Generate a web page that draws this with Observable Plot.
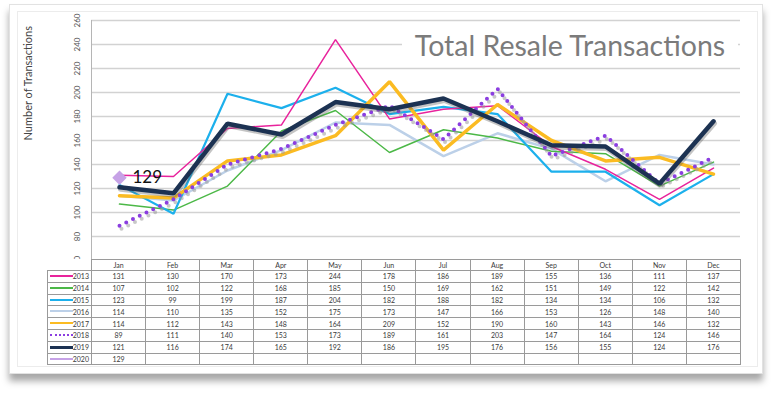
<!DOCTYPE html>
<html>
<head>
<meta charset="utf-8">
<script src="https://cdn.jsdelivr.net/npm/d3@7"></script>
<script src="https://cdn.jsdelivr.net/npm/@observablehq/plot@0.6"></script>
<style>
  html, body { margin: 0; padding: 0; background: #fff; }
  body { width: 772px; height: 397px; position: relative; overflow: hidden; font-family: Lato, "Open Sans", sans-serif; }
  #card { position: absolute; left: 9px; top: 4px; width: 752px; height: 368px; background: #fff;
          border: 1px solid #e2e2e2; box-shadow: 0 7px 7px rgba(0,0,0,0.35); }
  #inner { position: absolute; left: 17px; top: 11px; width: 739px; height: 354px; border: 1px solid #ececec; }
  #chart { position: absolute; left: 0; top: 0; }
  #title { position: absolute; left: 402px; top: 29px; width: 336px; height: 33px; background: #fff;
           color: #7b7b7b; font-size: 28.5px; line-height: 33px; text-align: center; white-space: nowrap; }
  #tbl { position: absolute; left: 47px; top: 259px; border-collapse: collapse; table-layout: fixed; background: #fff; }
  #tbl td { border: 1px solid #9a9a9a; font-size: 7px; color: #3a3a3a; text-align: center; padding: 0; height: 10.8px; line-height: 10px; overflow: hidden; white-space: nowrap; }
  #tbl tr.head td { height: 10px; }
  #tbl td.corner { border: none; background: transparent; }
  #tbl td.leg { text-align: right; padding-right: 2px; position: relative; }
  .sw { position: absolute; left: 2px; top: 4px; width: 23px; height: 0; }
</style>
</head>
<body>
<div id="card"></div>
<div id="inner"></div>
<div id="chart"></div>
<div id="title">Total Resale Transactions</div>
<table id="tbl"></table>
<script>
const months = ["Jan","Feb","Mar","Apr","May","Jun","Jul","Aug","Sep","Oct","Nov","Dec"];
const years = ["2013","2014","2015","2016","2017","2018","2019","2020"];
const v2013 = [131,130,170,173,244,178,186,189,155,136,111,137];
const v2014 = [107,102,122,168,185,150,169,162,151,149,122,142];
const v2015 = [123,99,199,187,204,182,188,182,134,134,106,132];
const v2016 = [114,110,135,152,175,173,147,166,153,126,148,140];
const v2017 = [114,112,143,148,164,209,152,190,160,143,146,132];
const v2018 = [89,111,140,153,173,189,161,203,147,164,124,146];
const v2019 = [121,116,174,165,192,186,195,176,156,155,124,176];
const v2020 = [129];
const yTicks = [60,80,100,120,140,160,180,200,220,240,260];
const colors = {"2013":"#e8239c","2014":"#4cb847","2015":"#1cb0ec","2016":"#bcd0e8","2017":"#fbbb22","2018":"#8b3ee0","2019":"#1c3252","2020":"#c6a2e6"};

const seriesVals = {"2013":v2013,"2014":v2014,"2015":v2015,"2016":v2016,"2017":v2017,"2018":v2018,"2019":v2019,"2020":v2020};
const rows = y => seriesVals[y].map((v,i) => ({month: months[i], value: v, year: y}));

const line = (y, opts) => Plot.line(rows(y), {x: "month", y: "value", stroke: colors[y], strokeLinejoin: "miter", ...opts});

const chart = Plot.plot({
  width: 772, height: 272,
  marginLeft: 91, marginRight: 32, marginTop: 20, marginBottom: 12,
  style: {fontFamily: "Lato, 'Open Sans', sans-serif", background: "transparent"},
  x: {type: "point", domain: months, padding: 0.5, axis: null},
  y: {domain: [60, 260], axis: null},
  marks: [
    Plot.gridY(yTicks, {stroke: "#d2d2d2", strokeWidth: 1.6, strokeOpacity: 1}),
    Plot.frame({anchor: "left", stroke: "#b5b5b5"}),
    Plot.axisY(yTicks, {label: null, tickSize: 0, tickPadding: 14, rotate: -90, textAnchor: "middle", fontSize: 8, fill: "#555"}),
    Plot.text(["Number of Transactions"], {frameAnchor: "left", dx: -63, rotate: -90, fontSize: 11, fill: "#444"}),
    line("2016", {strokeWidth: 2.5}),
    line("2014", {strokeWidth: 1.5}),
    line("2015", {strokeWidth: 2.2}),
    line("2013", {strokeWidth: 1.5}),
    line("2017", {strokeWidth: 3.5}),
    line("2018", {stroke: "#9a9a9a", strokeOpacity: 0.55, strokeWidth: 4, strokeDasharray: "0 7.5", strokeLinecap: "round", dx: 2, dy: 3}),
    line("2018", {strokeWidth: 4, strokeDasharray: "0 7.5", strokeLinecap: "round"}),
    line("2019", {stroke: "#555", strokeOpacity: 0.35, strokeWidth: 5, dx: 1, dy: 2}),
    line("2019", {strokeWidth: 4.5}),
    Plot.dot(rows("2020"), {x: "month", y: "value", symbol: "diamond2", r: 6.5, fill: colors["2020"]}),
    Plot.text(rows("2020"), {x: "month", y: "value", text: d => String(d.value), dx: 13, textAnchor: "start", fontSize: 17, fill: "#111"})
  ]
});
document.getElementById("chart").appendChild(chart);

// data table
const tbl = d3.select("#tbl");
const cg = tbl.append("colgroup");
cg.append("col").style("width", "44px");
months.forEach(() => cg.append("col").style("width", "54.08px"));
const head = tbl.append("tr").attr("class", "head");
head.append("td").attr("class", "corner");
months.forEach(m => head.append("td").text(m));
years.forEach(y => {
  const tr = tbl.append("tr");
  const leg = tr.append("td").attr("class", "leg");
  const sw = leg.append("div").attr("class", "sw");
  if (y === "2018") sw.style("border-top", `2px dotted ${colors[y]}`).style("top", "4px");
  else sw.style("border-top", `${y === "2019" ? 3 : 2}px solid ${colors[y]}`);
  leg.append("span").text(y).style("position", "relative");
  months.forEach((m, i) => tr.append("td").text(seriesVals[y][i] !== undefined ? seriesVals[y][i] : ""));
});
</script>
</body>
</html>
